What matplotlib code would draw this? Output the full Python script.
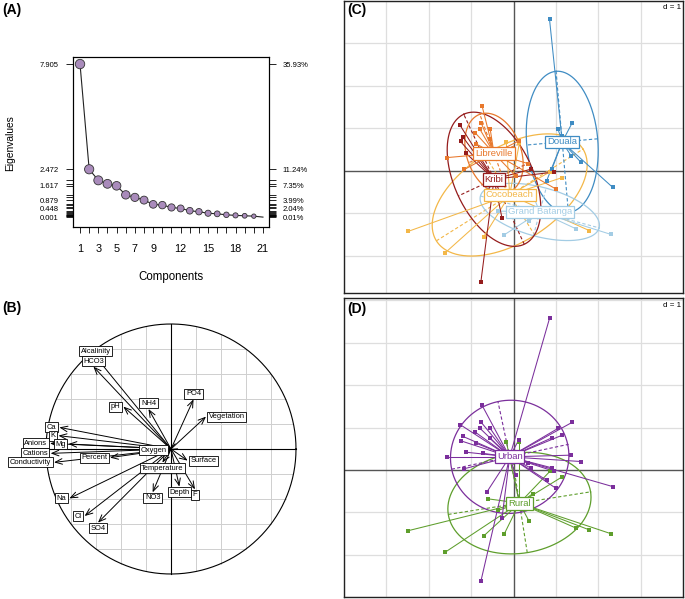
import numpy as np
import matplotlib
matplotlib.use("Agg")
import matplotlib.pyplot as plt

plt.rcParams['font.family'] = ['Liberation Sans', 'DejaVu Sans']

# ---------------- Panel A data ----------------
components = list(range(1, 22))
eigenvalues = [7.905, 2.472, 1.90, 1.72, 1.617, 1.15, 1.02, 0.879, 0.66, 0.62, 0.50,
               0.448, 0.33, 0.28, 0.20, 0.17, 0.12, 0.09, 0.07, 0.05, 0.001]
eig_labels = ["7.905", "2.472", "1.617", "0.879", "0.448", "0.001"]
eig_label_values = [7.905, 2.472, 1.617, 0.879, 0.448, 0.001]
pct_labels = ["35.93%", "11.24%", "7.35%", "3.99%", "2.04%", "0.01%"]
x_labelled = [1, 3, 5, 7, 9, 12, 15, 18, 21]

# ---------------- Panel B data ----------------
var_names = ["Alcalinity", "HCO3", "pH", "NH4", "PO4", "Vegetation", "Ca", "K", "Mg",
             "Anions", "Cations", "Conductivity", "Percent", "Oxygen", "Temperature",
             "Surface", "Depth", "F", "NO3", "Na", "Cl", "SO4"]
var_x = [-0.603, -0.621, -0.381, -0.180, 0.180, 0.280, -0.893, -0.900, -0.820,
         -0.968, -0.963, -0.936, -0.488, -0.016, -0.069, 0.133, 0.067, 0.192,
         -0.147, -0.813, -0.691, -0.584]
var_y = [0.739, 0.659, 0.339, 0.320, 0.397, 0.259, 0.173, 0.107, 0.040,
         0.045, -0.035, -0.107, -0.069, -0.008, -0.109, -0.093, -0.301, -0.323,
         -0.347, -0.395, -0.536, -0.589]

# ---------------- Panels C / D data (sample scores) ----------------
sample_x = [0.85, 1.38, 1.05, 1.15, 0.91, 1.36, 1.59, 2.34, 0.91, 0.78,
            -0.74, -0.76, -0.90, -0.80, -0.55, -0.56, -0.88, -0.71, -1.57, -1.16, 0.34, 0.12, 1.00, 0.05,
            -1.26, -1.19, -1.25, -1.13, -0.63, -0.27, -0.77, 0.42, 0.96,
            -2.49, -1.62, -0.70, 1.79, 1.15, 0.87, -0.59, -0.17, 0.14,
            -0.22, 0.36, 1.48, 2.30, 0.45, -0.36]
sample_y = [3.57, 1.12, 0.98, 0.82, 0.76, 0.35, 0.20, -0.39, 0.05, -0.24,
            1.52, 1.12, 0.89, 0.99, 0.98, 0.75, 0.63, 0.39, 0.31, 0.03, 0.17, 0.70, -0.43, -0.12,
            1.07, 0.79, 0.69, 0.42, -0.52, -1.12, -2.62, 0.04, -0.03,
            -1.43, -1.94, -1.55, -1.41, -0.16, -0.02, -0.68, 0.67, 0.66,
            -1.51, -1.19, -1.37, -1.50, -0.56, -0.95]
sample_site = (["Douala"] * 10 + ["Libreville"] * 14 + ["Kribi"] * 9 +
               ["Cocobeach"] * 9 + ["Grand Batanga"] * 6)
site_area = {"Douala": "Urban", "Libreville": "Urban", "Kribi": "Urban",
             "Cocobeach": "Rural", "Grand Batanga": "Rural"}

sites = ["Cocobeach", "Douala", "Grand Batanga", "Kribi", "Libreville"]
site_cx = [-0.09, 1.15, 0.62, -0.46, -0.46]
site_cy = [-0.57, 0.68, -0.97, -0.20, 0.41]
site_ell_a = [2.04, 1.67, 1.45, 1.69, 0.98]
site_ell_b = [1.12, 0.84, 0.58, 0.93, 0.64]
site_ell_angle = [32, 95, -15, 115, 110]

areas = ["Rural", "Urban"]
area_cx = [0.14, -0.09]
area_cy = [-0.78, 0.31]
area_ell_a = [1.70, 1.40]
area_ell_b = [1.18, 1.33]
area_ell_angle = [9, 12]

site_colors = {"Cocobeach": "#f3b748", "Douala": "#3f8cc3", "Grand Batanga": "#a3cce4",
               "Kribi": "#951c1c", "Libreville": "#e8782c"}
area_colors = {"Rural": "#5e9e2c", "Urban": "#7b2f9c"}

W, H = 685, 599
fig = plt.figure(figsize=(W / 100, H / 100), dpi=100)


def fx(px):
    return px / W


def fy(py):
    return 1 - py / H


# ================= Panel A =================
axA = fig.add_axes([fx(72.7), fy(227), fx(269) - fx(72.7), fy(57) - fy(227)])
sizes = np.linspace(46, 10, len(components) - 1)
axA.plot(components, eigenvalues, color='#222222', lw=0.8, zorder=1)
axA.scatter(components[:-1], eigenvalues[:-1], s=sizes, c='#a98bbb',
            edgecolors='#333333', linewidths=0.6, zorder=2)
axA.set_xlim(0.2, 21.66)
axA.set_ylim(-0.51, 8.27)
axA.set_xticks(components)
axA.set_xticklabels([str(c) if c in x_labelled else '' for c in components])
axA.tick_params(axis='x', length=4, width=0.6, pad=8, labelsize=7.8, direction='out')


def eig_lab(v, labs):
    for lv, lt in zip(eig_label_values, labs):
        if abs(v - lv) < 1e-9:
            return lt
    return ''


axA.set_yticks(eigenvalues)
axA.set_yticklabels([eig_lab(v, eig_labels) for v in eigenvalues])
axA.tick_params(axis='y', length=5, width=0.6, pad=5, labelsize=5.5)
axA2 = axA.twinx()
axA2.set_ylim(axA.get_ylim())
axA2.set_yticks(eigenvalues)
axA2.set_yticklabels([eig_lab(v, pct_labels) for v in eigenvalues])
axA2.tick_params(axis='y', length=5, width=0.6, pad=5, labelsize=5.5)
for ax in (axA, axA2):
    for s in ax.spines.values():
        s.set_linewidth(0.8)
fig.text(fx(171), fy(277), 'Components', ha='center', va='center', fontsize=8.3)
fig.text(fx(10), fy(143), 'Eigenvalues', ha='center', va='center', fontsize=7.4, rotation=90)
fig.text(fx(2), fy(3), '(A)', ha='left', va='top', fontsize=10, fontweight='bold')

# ================= Panel B =================
axB = fig.add_axes([fx(6), fy(598), fx(336) - fx(6), fy(300) - fy(598)])
axB.set_xlim(-1.32, 1.32)
axB.set_ylim(-1.192, 1.192)
axB.axis('off')
for g in np.arange(-0.8, 0.81, 0.2):
    if abs(g) < 1e-9:
        continue
    h = np.sqrt(1 - g ** 2)
    axB.plot([g, g], [-h, h], color='#cfcfcf', lw=0.7, zorder=1)
    axB.plot([-h, h], [g, g], color='#cfcfcf', lw=0.7, zorder=1)
axB.plot([0, 0], [-1, 1], color='black', lw=0.8, zorder=2)
axB.plot([-1, 1], [0, 0], color='black', lw=0.8, zorder=2)
tt = np.linspace(0, 2 * np.pi, 400)
axB.plot(np.cos(tt), np.sin(tt), color='black', lw=0.8, zorder=2)
for name, vx, vy in zip(var_names, var_x, var_y):
    axB.annotate('', xy=(vx, vy), xytext=(0, 0),
                 arrowprops=dict(arrowstyle='->,head_length=0.5,head_width=0.2',
                                 color='black', lw=0.7, shrinkA=0, shrinkB=0,
                                 mutation_scale=10), zorder=3)
for name, vx, vy in zip(var_names, var_x, var_y):
    if vx > abs(vy):
        ha, va, off = 'left', 'center', (2, 0)
    elif vx < -abs(vy):
        ha, va, off = 'right', 'center', (-2, 0)
    elif vy >= abs(vx):
        ha, va, off = 'center', 'bottom', (0, 1.5)
    else:
        ha, va, off = 'center', 'top', (0, -1.5)
    axB.annotate(name, xy=(vx, vy), xytext=off, textcoords='offset points',
                 ha=ha, va=va, fontsize=5.4, zorder=4,
                 bbox=dict(boxstyle='square,pad=0.2', fc='white', ec='black', lw=0.6))
fig.text(fx(2), fy(301), '(B)', ha='left', va='top', fontsize=10, fontweight='bold')


# ================= Panels C & D =================
def class_panel(ax, groups, gcx, gcy, ga, gb, gang, colors, member):
    ax.set_xlim(-4.0, 4.0)
    for v in range(-4, 5):
        if v != 0:
            ax.axvline(v, color='#dedede', lw=0.9, zorder=0)
            ax.axhline(v, color='#dedede', lw=0.9, zorder=0)
    ax.axvline(0, color='#555555', lw=1.0, zorder=1)
    ax.axhline(0, color='#555555', lw=1.0, zorder=1)
    t = np.linspace(0, 2 * np.pi, 300)
    for g, cx, cy, a, b, ang in zip(groups, gcx, gcy, ga, gb, gang):
        col = colors[g]
        th = np.deg2rad(ang)
        u = np.array([np.cos(th), np.sin(th)])
        w = np.array([-np.sin(th), np.cos(th)])
        ex = cx + a * np.cos(t) * u[0] + b * np.sin(t) * w[0]
        ey = cy + a * np.cos(t) * u[1] + b * np.sin(t) * w[1]
        ax.plot(ex, ey, color=col, lw=0.9, zorder=2)
        ax.plot([cx - a * u[0], cx + a * u[0]], [cy - a * u[1], cy + a * u[1]],
                color=col, lw=0.8, ls=(0, (3, 2)), zorder=2)
        ax.plot([cx - b * w[0], cx + b * w[0]], [cy - b * w[1], cy + b * w[1]],
                color=col, lw=0.8, ls=(0, (3, 2)), zorder=2)
        px = [x for x, s in zip(sample_x, sample_site) if member(s) == g]
        py = [y for y, s in zip(sample_y, sample_site) if member(s) == g]
        for x, y in zip(px, py):
            ax.plot([x, cx], [y, cy], color=col, lw=0.75, zorder=3)
        ax.scatter(px, py, marker='s', s=5, color=col, zorder=4, linewidths=0)
    for g, cx, cy in zip(groups, gcx, gcy):
        col = colors[g]
        ax.text(cx, cy, g, ha='center', va='center', color=col, fontsize=6.8, zorder=5,
                bbox=dict(boxstyle='square,pad=0.2', fc='white', ec=col, lw=0.9))
    ax.set_xticks([])
    ax.set_yticks([])
    for s in ax.spines.values():
        s.set_linewidth(1.0)
        s.set_color('#222222')


axC = fig.add_axes([fx(344), fy(293), fx(683) - fx(344), fy(1) - fy(293)])
class_panel(axC, sites, site_cx, site_cy, site_ell_a, site_ell_b, site_ell_angle,
            site_colors, lambda s: s)
axC.set_ylim(-2.88, 4.0)
axD = fig.add_axes([fx(344), fy(597), fx(683) - fx(344), fy(298) - fy(597)])
class_panel(axD, areas, area_cx, area_cy, area_ell_a, area_ell_b, area_ell_angle,
            area_colors, lambda s: site_area[s])
axD.set_ylim(-2.99, 4.05)

fig.text(fx(347), fy(3), '(C)', ha='left', va='top', fontsize=10, fontweight='bold')
fig.text(fx(347), fy(302), '(D)', ha='left', va='top', fontsize=10, fontweight='bold')
fig.text(fx(681), fy(4), 'd = 1', ha='right', va='top', fontsize=5.8,
         bbox=dict(boxstyle='square,pad=0.1', fc='white', ec='none'))
fig.text(fx(681), fy(302), 'd = 1', ha='right', va='top', fontsize=5.8,
         bbox=dict(boxstyle='square,pad=0.1', fc='white', ec='none'))

fig.savefig('out.png', dpi=100)
